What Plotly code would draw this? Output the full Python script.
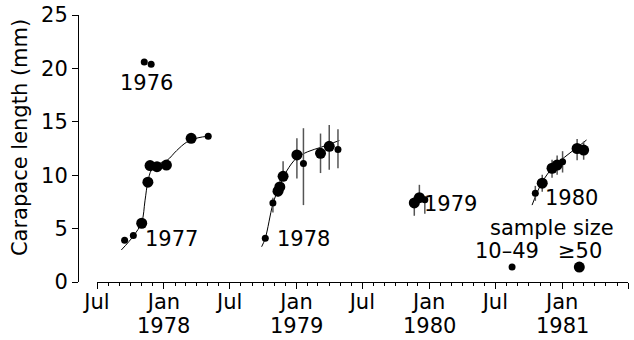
import plotly.graph_objects as go

FONT = "DejaVu Sans"
SMALL, LARGE = 7, 11

# ---- data ----
c1976_dates = ["1977-11-08", "1977-11-27"]
c1976_vals = [20.6, 20.4]
c1976_n = ["s", "s"]

c1977_dates = ["1977-09-15", "1977-10-09", "1977-11-01", "1977-11-18", "1977-11-24",
               "1977-12-13", "1978-01-08", "1978-03-17", "1978-05-03"]
c1977_vals = [3.9, 4.35, 5.5, 9.35, 10.9, 10.8, 10.95, 13.45, 13.65]
c1977_n = ["s", "s", "l", "l", "l", "l", "l", "l", "s"]
c1977_curve_dates = ["1977-09-06", "1977-10-09", "1977-11-01", "1977-11-10", "1977-11-18",
                     "1977-11-28", "1977-12-15", "1978-01-10", "1978-02-05", "1978-03-05",
                     "1978-04-05", "1978-05-03"]
c1977_curve_vals = [3.0, 4.3, 5.6, 7.6, 9.4, 10.5, 11.0, 11.4, 12.3, 13.1, 13.5, 13.65]

c1978_dates = ["1978-10-07", "1978-10-28", "1978-11-11", "1978-11-16", "1978-11-25",
               "1979-01-02", "1979-01-20", "1979-03-08", "1979-04-01", "1979-04-25"]
c1978_vals = [4.1, 7.4, 8.5, 8.9, 9.9, 11.9, 11.1, 12.05, 12.7, 12.4]
c1978_n = ["s", "s", "l", "l", "l", "l", "s", "l", "l", "s"]
c1978_up = [0.0, 0.5, 0.5, 0.5, 1.4, 1.55, 3.3, 1.85, 2.0, 1.9]
c1978_dn = [0.0, 0.9, 0.5, 0.5, 0.4, 2.2, 3.9, 1.85, 2.2, 1.75]
c1978_curve_dates = ["1978-09-27", "1978-10-07", "1978-10-28", "1978-11-15", "1978-12-05",
                     "1979-01-01", "1979-02-01", "1979-03-08", "1979-04-01", "1979-04-29"]
c1978_curve_vals = [3.3, 4.1, 7.3, 9.0, 10.4, 11.6, 12.2, 12.6, 12.9, 13.25]

c1979_dates = ["1979-11-21", "1979-12-05", "1979-12-20"]
c1979_vals = [7.4, 7.9, 7.7]
c1979_n = ["l", "l", "s"]
c1979_up = [0.6, 1.2, 0.3]
c1979_dn = [1.2, 0.4, 1.3]

c1980_dates = ["1980-10-19", "1980-11-07", "1980-12-04", "1980-12-18", "1981-01-02",
               "1981-02-11", "1981-03-01"]
c1980_vals = [8.3, 9.25, 10.65, 10.95, 11.25, 12.5, 12.35]
c1980_n = ["s", "l", "l", "l", "s", "l", "l"]
c1980_up = [0.7, 0.8, 0.8, 0.9, 1.0, 0.9, 0.8]
c1980_dn = [0.7, 0.8, 0.9, 0.9, 1.0, 1.1, 0.9]
c1980_curve_dates = ["1980-10-10", "1980-11-06", "1980-12-08", "1981-01-08", "1981-02-11",
                     "1981-03-09"]
c1980_curve_vals = [7.2, 9.3, 10.8, 11.7, 12.6, 13.3]

legend_dates = ["1980-08-16", "1981-02-17"]
legend_vals = [1.4, 1.4]
legend_n = ["s", "l"]

x_tickvals = ["1977-07-01", "1978-01-01", "1978-07-01", "1979-01-01", "1979-07-01",
              "1980-01-01", "1980-07-01", "1981-01-01", "1981-07-01"]
x_ticktext = ["Jul", "Jan", "Jul", "Jan", "Jul", "Jan", "Jul", "Jan", "Jul"]
year_dates = ["1978-01-01", "1979-01-01", "1980-01-01", "1981-01-01"]
year_text = ["1978", "1979", "1980", "1981"]
y_tickvals = [0, 5, 10, 15, 20, 25]

labels = [("1976", "1977-11-14", 18.6), ("1977", "1978-01-21", 4.0),
          ("1978", "1979-01-20", 4.0), ("1979", "1980-02-28", 7.3),
          ("1980", "1981-01-27", 7.85), ("sample size", "1980-12-05", 5.05),
          ("10–49", "1980-08-03", 2.9), ("≥50", "1981-02-20", 2.9)]


def sizes(flags):
    return [LARGE if f == "l" else SMALL for f in flags]


fig = go.Figure()

for cd, cv in [(c1977_curve_dates, c1977_curve_vals), (c1978_curve_dates, c1978_curve_vals),
               (c1980_curve_dates, c1980_curve_vals)]:
    fig.add_trace(go.Scatter(x=cd, y=cv, mode="lines", line=dict(color="black", width=1, shape="spline"),
                             hoverinfo="skip"))

def add_points(d, v, n, up=None, dn=None):
    err = None
    if up is not None:
        err = dict(type="data", symmetric=False, array=up, arrayminus=dn,
                   color="#555555", thickness=1.5, width=0)
    fig.add_trace(go.Scatter(x=d, y=v, mode="markers",
                             marker=dict(color="black", size=sizes(n), opacity=1, line=dict(width=0)),
                             error_y=err))

add_points(c1976_dates, c1976_vals, c1976_n)
add_points(c1977_dates, c1977_vals, c1977_n)
add_points(c1978_dates, c1978_vals, c1978_n, c1978_up, c1978_dn)
add_points(c1979_dates, c1979_vals, c1979_n, c1979_up, c1979_dn)
add_points(c1980_dates, c1980_vals, c1980_n, c1980_up, c1980_dn)
add_points(legend_dates, legend_vals, legend_n)

for txt, xd, yv in labels:
    fig.add_annotation(x=xd, y=yv, xref="x", yref="y", text=txt, showarrow=False,
                       font=dict(family=FONT, size=21, color="black"),
                       xanchor="center", yanchor="middle")

for xd, txt in zip(year_dates, year_text):
    fig.add_annotation(x=xd, y=-0.165, xref="x", yref="paper", text=txt, showarrow=False,
                       font=dict(family=FONT, size=21, color="black"),
                       xanchor="center", yanchor="middle")

fig.add_annotation(x=-0.105, y=0.54, xref="paper", yref="paper", text="Carapace length (mm)",
                   textangle=-90, showarrow=False, xanchor="center", yanchor="middle",
                   font=dict(family=FONT, size=21, color="black"))

fig.update_layout(
    width=634, height=340, margin=dict(l=78, r=6, t=15, b=58, autoexpand=False),
    paper_bgcolor="white", plot_bgcolor="white", showlegend=False,
    font=dict(family=FONT, size=21, color="black"),
    xaxis=dict(type="date", range=["1977-07-01", "1981-07-01"], domain=[19 / 550, 1],
               automargin=False,
               tickmode="array", tickvals=x_tickvals, ticktext=x_ticktext,
               showline=True, linecolor="black", linewidth=1, showgrid=False, zeroline=False,
               ticks="outside", ticklen=6, tickcolor="black", tickwidth=1,
               ticklabelstandoff=-5,
               minor=dict(dtick="M1", tick0="1977-07-01", ticks="outside", ticklen=3,
                          tickcolor="black", showgrid=False),
               tickfont=dict(family=FONT, size=21, color="black")),
    yaxis=dict(range=[0, 25], anchor="free", position=0, tickvals=y_tickvals,
               automargin=False, ticklabeloverflow="allow",
               showline=True, linecolor="black", linewidth=1, showgrid=False, zeroline=False,
               ticks="outside", ticklen=6, tickcolor="black",
               tickfont=dict(family=FONT, size=21, color="black")),
)

fig.write_html("out.html", config={"displayModeBar": False},
               post_script="document.body.style.margin='0';document.body.style.overflow='hidden';")
